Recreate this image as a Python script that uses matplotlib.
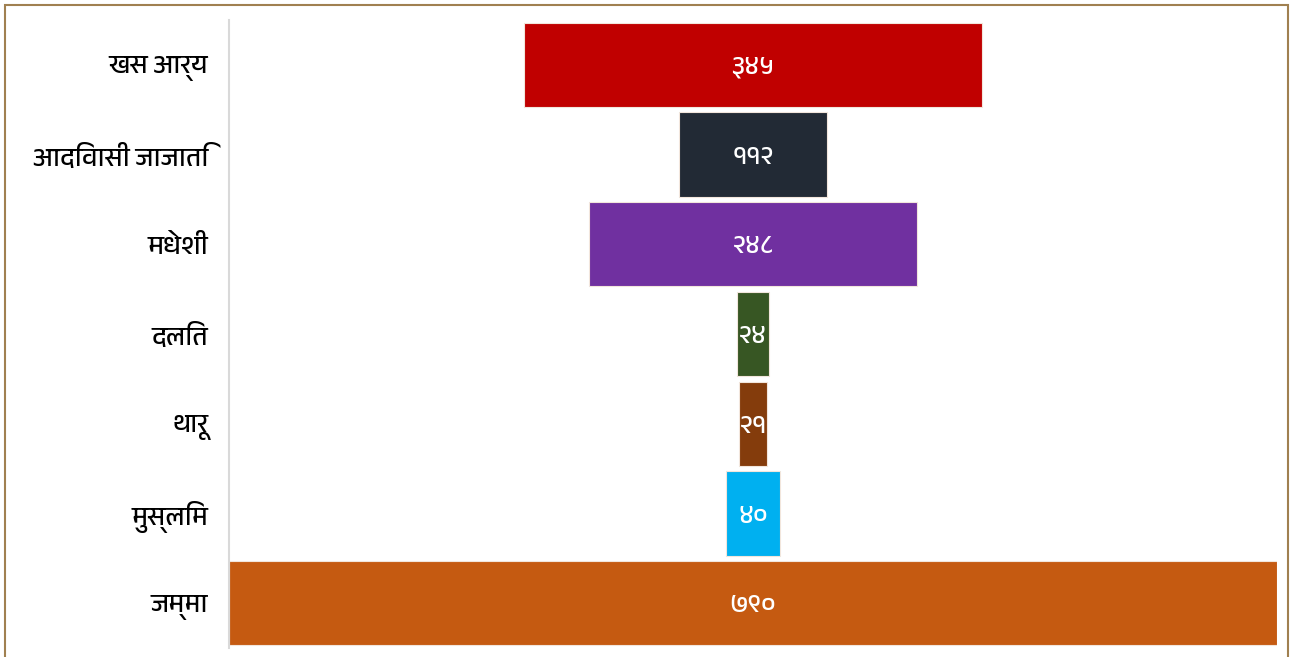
import matplotlib
matplotlib.use('Agg')
import matplotlib.pyplot as plt
from matplotlib import font_manager
from matplotlib.patches import Rectangle

# data
categories = ['खस आर्य', 'आदिवासी जाजाति', 'मधेशी', 'दलित', 'थारू', 'मुस्लिम', 'जम्मा']
values = [345, 112, 248, 24, 21, 40, 790]
value_labels = ['३४५', '११२', '२४८', '२४', '२१', '४०', '७९०']
colors = ['#C00000', '#222A35', '#7030A0', '#375623', '#843C0C', '#00B0F0', '#C55A11']

# pick a font that can draw devanagari, if any is installed
names = sorted(set(f.name for f in font_manager.fontManager.ttflist))
deva = [n for n in names if 'Devanagari' in n or n in ('Lohit Devanagari', 'FreeSans', 'Mangal', 'Nirmala UI')]
plt.rcParams['font.family'] = deva + ['Noto Sans', 'DejaVu Sans']

W, H = 1290, 657
fig = plt.figure(figsize=(W / 100, H / 100), dpi=100)
ax = fig.add_axes([229 / W, 9 / H, 1048 / W, 628 / H])

total = max(values)
lefts = [(total - v) / 2 for v in values]
ypos = list(range(len(values)))
ax.barh(ypos, values, left=lefts, height=0.94, color=colors,
        edgecolor='#f2e6dc', linewidth=0.8)

for y, l, v, t in zip(ypos, lefts, values, value_labels):
    ax.text(l + v / 2, y + 0.03, t, ha='center', va='center', color='white',
            fontsize=19, fontweight='bold')

ax.set_xlim(0, total)
ax.set_ylim(len(values) - 0.5, -0.5)
ax.set_yticks(ypos)
ax.set_yticklabels(categories, fontsize=19, fontweight='medium')
for lab in ax.get_yticklabels():
    lab.set_y(lab.get_position()[1])
ax.tick_params(axis='y', length=0, pad=15)
ax.set_xticks([])
for s in ['top', 'right', 'bottom']:
    ax.spines[s].set_visible(False)
ax.spines['left'].set_color('#d9d9d9')
ax.spines['left'].set_linewidth(1.5)

# outer frame
fig.patches.append(Rectangle((5 / W, -0.1), 1283 / W, 1 - 5 / H + 0.1, transform=fig.transFigure,
                             fill=False, edgecolor='#A08050', linewidth=1.5))

fig.savefig('out.png', dpi=100)
